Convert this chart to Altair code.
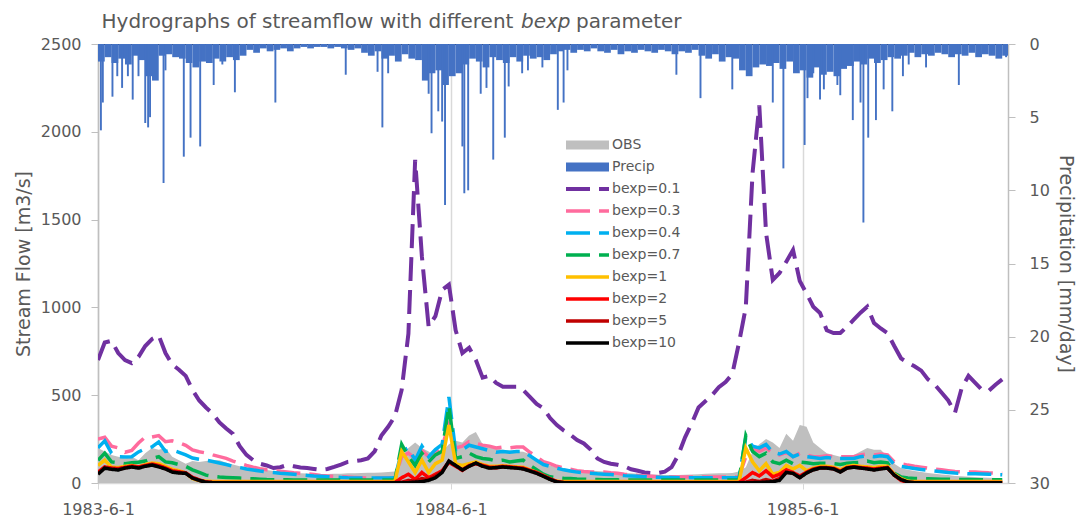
import altair as alt
import pandas as pd

FONT = "DejaVu Sans"
TEXT = "#595959"

START = "1983-06-01"
N = 135  # weekly samples

SERIES = ["OBS", "Precip", "bexp=0.1", "bexp=0.3", "bexp=0.4", "bexp=0.7",
          "bexp=1", "bexp=2", "bexp=5", "bexp=10"]
COLORS = ["#bfbfbf", "#4472c4", "#7030a0", "#ff6b9d", "#00b0f0", "#00b050",
          "#ffc000", "#ff0000", "#c00000", "#000000"]
DASHES = [[1, 0], [1, 0], [24, 9], [24, 9], [24, 9], [24, 9],
          [1, 0], [1, 0], [1, 0], [1, 0]]
WIDTHS = [9, 9, 4, 3.5, 3.5, 3.5, 3.5, 3.5, 3.5, 3.5]

obs = [200, 180, 160, 150, 140, 150, 130, 170, 200, 190,
       200, 150, 130, 110, 125, 120, 125, 130, 130, 115,
       105, 95, 90, 82, 78, 74, 68, 63, 58, 57,
       55, 54, 52, 51, 51, 52, 53, 55, 56, 57,
       58, 58, 60, 62, 65, 150, 200, 230, 200, 180,
       150, 180, 220, 240, 230, 270, 290, 220, 210, 200,
       190, 185, 180, 178, 165, 135, 110, 100, 90, 82,
       78, 74, 72, 70, 68, 66, 64, 60, 57, 55,
       52, 50, 48, 47, 46, 46, 46, 47, 48, 50,
       52, 54, 55, 56, 57, 65, 90, 180, 220, 250,
       230, 200, 280, 240, 330, 320, 230, 200, 170, 160,
       150, 150, 160, 180, 200, 190, 190, 150, 110, 85,
       75, 68, 62, 57, 52, 48, 45, 40, 38, 36,
       34, 32, 30, 29, 28]

b01 = [700, 800, 810, 740, 700, 683, 718, 780, 820, 840,
       740, 675, 645, 610, 530, 470, 430, 395, 345, 310,
       280, 210, 160, 130, 110, 100, 85, 90, 102, 95,
       88, 85, 80, 75, 80, 92, 105, 120, 125, 130,
       140, 180, 270, 320, 380, 530, 850, 1840, 1290, 890,
       950, 1100, 1130, 870, 740, 770, 700, 600, 610, 570,
       548, 548, 548, 530, 490, 450, 425, 370, 330, 300,
       275, 245, 225, 190, 140, 120, 110, 104, 95, 78,
       70, 60, 57, 57, 65, 90, 160, 260, 340, 430,
       465, 500, 545, 575, 620, 800, 1000, 1765, 2150, 1424,
       1156, 1196, 1260, 1327, 1150, 1080, 1004, 968, 870, 854,
       854, 890, 930, 970, 1004, 911, 880, 854, 780, 710,
       685, 665, 640, 590, 560, 515, 470, 400, 541, 610,
       570, 530, 525, 560, 590]

b03 = [250, 260, 210, 200, 175, 185, 228, 262, 262, 270,
       235, 240, 230, 215, 188, 178, 171, 160, 150, 140,
       125, 112, 100, 90, 82, 75, 70, 67, 63, 58,
       55, 52, 48, 43, 40, 38, 36, 34, 32, 30,
       28, 28, 28, 28, 30, 150, 170, 140, 185, 150,
       170, 210, 330, 200, 210, 235, 225, 215, 210, 200,
       205, 200, 205, 205, 175, 150, 121, 110, 95, 85,
       78, 70, 65, 63, 63, 62, 58, 55, 50, 46,
       43, 40, 38, 36, 35, 34, 34, 34, 34, 34,
       34, 34, 34, 34, 34, 35, 150, 200, 180, 200,
       170, 160, 175, 150, 170, 160, 150, 150, 155, 150,
       150, 150, 150, 160, 165, 160, 165, 160, 120, 110,
       102, 95, 90, 85, 80, 75, 70, 65, 63, 63,
       62, 60, 58, 57, 56]

b04 = [200, 240, 170, 150, 148, 150, 177, 195, 205, 234,
       180, 188, 175, 160, 142, 135, 130, 122, 114, 105,
       95, 88, 80, 74, 68, 63, 60, 56, 53, 50,
       46, 43, 40, 38, 36, 34, 32, 30, 29, 28,
       28, 28, 28, 28, 30, 180, 200, 130, 210, 150,
       190, 220, 490, 180, 190, 215, 205, 195, 185, 175,
       180, 175, 180, 180, 155, 130, 105, 95, 85, 75,
       68, 62, 58, 55, 52, 50, 48, 45, 42, 40,
       38, 36, 34, 33, 32, 31, 30, 30, 30, 30,
       30, 30, 30, 30, 30, 32, 260, 210, 200, 220,
       175, 165, 180, 150, 165, 150, 145, 140, 145, 140,
       140, 140, 140, 150, 155, 150, 155, 150, 105, 95,
       88, 82, 77, 72, 68, 64, 60, 57, 55, 53,
       52, 51, 50, 48, 47]

b07 = [130, 170, 120, 115, 110, 115, 118, 125, 140, 150,
       120, 115, 105, 95, 75, 60, 45, 38, 34, 32,
       30, 28, 26, 24, 22, 20, 19, 18, 18, 17,
       17, 17, 17, 17, 17, 17, 17, 17, 17, 17,
       17, 17, 17, 17, 18, 220, 150, 100, 170, 120,
       160, 180, 440, 140, 150, 170, 150, 140, 135, 125,
       130, 120, 125, 130, 100, 75, 50, 35, 30, 27,
       25, 23, 22, 21, 20, 19, 18, 18, 17, 17,
       17, 17, 17, 17, 17, 17, 17, 17, 17, 17,
       17, 17, 17, 17, 17, 18, 270, 180, 150, 170,
       120, 110, 130, 110, 120, 115, 110, 112, 112, 110,
       105, 112, 115, 118, 125, 115, 120, 115, 55, 35,
       28, 26, 25, 24, 23, 22, 21, 20, 20, 20,
       19, 19, 18, 18, 18]

b1 = [100, 130, 90, 88, 95, 100, 92, 105, 114, 110,
      95, 78, 70, 57, 25, 14, 10, 9, 8, 8,
      8, 8, 8, 8, 8, 8, 8, 8, 8, 8,
      8, 8, 8, 8, 8, 8, 8, 8, 8, 8,
      8, 8, 8, 8, 8, 180, 120, 60, 130, 60,
      110, 130, 330, 110, 100, 110, 120, 105, 95, 95,
      98, 95, 92, 90, 75, 60, 42, 22, 10, 8,
      8, 8, 8, 8, 8, 8, 8, 8, 8, 8,
      8, 8, 8, 8, 8, 8, 8, 8, 8, 8,
      8, 8, 8, 8, 8, 8, 200, 120, 70, 110,
      50, 60, 100, 80, 100, 70, 85, 95, 95, 90,
      75, 95, 100, 95, 92, 88, 95, 95, 50, 25,
      10, 8, 8, 8, 8, 8, 8, 8, 8, 8,
      8, 8, 8, 8, 8]

b2 = [62, 92, 85, 82, 90, 97, 92, 100, 108, 100,
      86, 70, 64, 58, 32, 18, 6, 3, 3, 3,
      3, 3, 3, 3, 3, 3, 3, 3, 3, 3,
      3, 3, 3, 3, 3, 3, 3, 3, 3, 3,
      3, 3, 3, 3, 3, 30, 50, 20, 60, 30,
      50, 70, 118, 95, 72, 100, 110, 100, 90, 90,
      95, 92, 88, 85, 72, 60, 42, 24, 8, 3,
      3, 3, 3, 3, 3, 3, 3, 3, 3, 3,
      3, 3, 3, 3, 3, 3, 3, 3, 3, 3,
      3, 3, 3, 3, 3, 3, 30, 60, 40, 70,
      35, 50, 75, 60, 40, 62, 80, 88, 88, 84,
      68, 88, 93, 88, 85, 80, 85, 88, 45, 15,
      3, 3, 3, 3, 3, 3, 3, 3, 3, 3,
      3, 3, 3, 3, 3]

b5 = [55, 88, 80, 78, 86, 93, 88, 97, 104, 95,
      82, 65, 60, 56, 30, 16, 5, 2, 2, 2,
      2, 2, 2, 2, 2, 2, 2, 2, 2, 2,
      2, 2, 2, 2, 2, 2, 2, 2, 2, 2,
      2, 2, 2, 2, 2, 5, 15, 10, 25, 20,
      40, 65, 122, 98, 76, 97, 112, 97, 87, 86,
      92, 89, 86, 82, 70, 57, 40, 22, 7, 2,
      2, 2, 2, 2, 2, 2, 2, 2, 2, 2,
      2, 2, 2, 2, 2, 2, 2, 2, 2, 2,
      2, 2, 2, 2, 2, 2, 5, 15, 8, 20,
      10, 25, 62, 55, 32, 58, 76, 86, 86, 81,
      64, 86, 91, 86, 82, 76, 82, 87, 44, 18,
      4, 2, 2, 2, 2, 2, 2, 2, 2, 2,
      2, 2, 2, 2, 2]

b10 = [50, 85, 78, 74, 85, 91, 85, 95, 102, 92,
       80, 62, 57, 55, 28, 15, 4, 2, 1, 1,
       1, 1, 1, 1, 1, 1, 1, 1, 1, 1,
       1, 1, 1, 1, 1, 1, 1, 1, 1, 1,
       1, 1, 1, 1, 1, 1, 2, 5, 8, 15,
       30, 60, 125, 100, 74, 95, 114, 95, 85, 88,
       91, 88, 85, 80, 68, 55, 38, 20, 6, 2,
       1, 1, 1, 1, 1, 1, 1, 1, 1, 1,
       1, 1, 1, 1, 1, 1, 1, 1, 1, 1,
       1, 1, 1, 1, 1, 1, 1, 2, 3, 5,
       8, 15, 60, 55, 30, 57, 75, 85, 85, 80,
       63, 85, 90, 85, 80, 74, 80, 85, 45, 20,
       6, 1, 1, 1, 1, 1, 1, 1, 1, 1,
       1, 1, 1, 1, 1]

# weekly background of the daily precipitation (mm/day)
precip_weekly = [1.2, 0.9, 1.3, 1.0, 1.4, 0.8, 1.1, 2.2, 2.5, 0.8,
                 0.7, 0.9, 1.0, 1.3, 1.6, 1.2, 1.3, 1.0, 1.2, 0.9,
                 1.1, 0.8, 0.4, 0.6, 0.3, 0.5, 0.4, 0.3, 0.5, 0.3,
                 0.2, 0.3, 0.2, 0.2, 0.3, 0.2, 0.3, 0.4, 0.3, 0.6,
                 0.8, 0.5, 1.0, 0.8, 1.2, 0.7, 1.0, 1.1, 2.5, 2.0,
                 1.8, 2.8, 2.2, 2.0, 1.4, 1.0, 1.2, 1.6, 0.9, 1.1,
                 1.3, 0.9, 1.2, 0.8, 1.0, 0.9, 1.1, 0.7, 0.5, 0.4,
                 0.6, 0.4, 0.5, 0.3, 0.5, 0.6, 0.4, 0.7, 0.5, 0.6,
                 0.4, 0.5, 0.6, 0.4, 0.5, 0.7, 0.5, 0.6, 0.4, 0.8,
                 1.0, 0.7, 1.2, 0.9, 1.0, 1.8, 2.2, 1.6, 1.4, 1.5,
                 1.3, 1.7, 1.2, 2.0, 1.8, 2.3, 1.6, 2.1, 1.9, 2.2,
                 1.7, 1.5, 1.2, 1.4, 1.0, 1.3, 1.1, 0.9, 1.0, 0.8,
                 0.6, 0.9, 0.7, 0.8, 0.6, 0.7, 0.9, 0.7, 0.8, 0.6,
                 0.9, 0.7, 0.8, 1.0, 0.8]

# individual rain days that stand out
spike_dates = ["1983-06-03", "1983-06-05", "1983-06-15", "1983-06-20", "1983-06-25",
               "1983-07-01", "1983-07-06", "1983-07-12", "1983-07-19", "1983-07-22",
               "1983-07-24", "1983-08-07", "1983-08-09", "1983-08-28", "1983-09-04",
               "1983-09-14", "1983-09-28", "1983-10-07", "1983-10-20", "1983-12-01",
               "1984-02-12", "1984-03-16", "1984-03-21", "1984-03-27", "1984-05-08",
               "1984-05-11", "1984-05-18", "1984-05-22", "1984-05-25", "1984-06-12",
               "1984-06-14", "1984-06-18", "1984-07-01", "1984-07-07", "1984-07-14",
               "1984-07-26", "1984-07-30", "1984-08-13", "1984-08-19", "1984-09-03",
               "1984-09-19", "1984-09-25", "1984-09-29", "1985-01-20", "1985-02-14",
               "1985-03-19", "1985-04-04", "1985-04-30", "1985-05-11", "1985-06-02",
               "1985-06-05", "1985-06-11", "1985-06-18", "1985-06-22", "1985-07-06",
               "1985-07-09", "1985-07-22", "1985-07-30", "1985-08-02", "1985-08-07",
               "1985-08-15", "1985-08-23", "1985-09-01", "1985-09-12", "1985-09-18",
               "1985-10-06", "1985-11-09", "1985-12-28"]
spike_mm = [5.9, 4.0, 3.6, 2.2, 3.0,
            2.2, 3.8, 2.2, 5.4, 5.7,
            5.0, 9.5, 1.8, 7.7, 6.4,
            7.0, 2.8, 1.4, 3.3, 4.0,
            2.1, 1.9, 5.7, 2.0, 3.4,
            6.1, 4.6, 5.3, 11.0, 7.0,
            10.2, 10.0, 3.4, 3.0, 7.9,
            6.4, 2.9, 2.0, 1.8, 1.6,
            4.5, 4.0, 1.8, 2.1, 3.7,
            3.1, 1.1, 4.0, 8.5, 6.9,
            3.7, 2.0, 3.8, 3.1, 2.8,
            3.5, 5.2, 4.0, 12.2, 6.4,
            5.2, 3.1, 4.6, 2.2, 1.4,
            1.6, 2.8, 0.9]

flow_ticks = [0, 500, 1000, 1500, 2000, 2500]
precip_ticks = [0, 5, 10, 15, 20, 25, 30]

# ---------------------------------------------------------------- tables
week_dates = pd.date_range(START, periods=N, freq="7D")
line_names = SERIES[2:]
line_values = [b01, b03, b04, b07, b1, b2, b5, b10]
rows = []
for name, vals in zip(line_names, line_values):
    assert len(vals) == N, name
    for d, v in zip(week_dates, vals):
        rows.append({"date": d, "series": name, "value": v})
flow_df = pd.DataFrame(rows)
assert len(obs) == N and len(precip_weekly) == N
obs_df = pd.DataFrame({"date": week_dates, "value": obs})
bg_df = pd.DataFrame({"date": week_dates,
                      "date_end": week_dates + pd.Timedelta(days=7),
                      "p": precip_weekly})
sp = pd.to_datetime(spike_dates)
sp_df = pd.DataFrame({"date": sp, "date_end": sp + pd.Timedelta(days=2), "p": spike_mm})

# ---------------------------------------------------------------- encodings
x_scale = alt.Scale(domain=[alt.DateTime(year=1983, month=6, date=1),
                            alt.DateTime(year=1985, month=12, date=31)])
x_axis = alt.Axis(values=[alt.DateTime(year=y, month=6, date=1) for y in (1983, 1984, 1985)],
                  format="%Y-%-m-%-d", grid=True, gridColor="#d9d9d9", gridWidth=1.5,
                  domainColor="#d9d9d9", domainWidth=1.5, tickColor="#d9d9d9",
                  tickSize=6, labelPadding=12, labelFlush=False, labelOverlap=False)
x_enc = alt.X("date:T", scale=x_scale, axis=x_axis, title=None)

y_flow = alt.Y("value:Q", scale=alt.Scale(domain=[0, 2500], nice=False),
               axis=alt.Axis(values=flow_ticks, format="d", grid=False, tickSize=7,
                             labelPadding=10, titlePadding=7, domainColor="#bfbfbf",
                             tickColor="#bfbfbf", domainWidth=1.5),
               title="Stream Flow [m3/s]")
y_precip = alt.Y("p:Q", scale=alt.Scale(domain=[0, 30], reverse=True, nice=False),
                 axis=alt.Axis(orient="right", values=precip_ticks, format="d", grid=False,
                               tickSize=7, labelPadding=14, titlePadding=6,
                               domainColor="#bfbfbf", tickColor="#bfbfbf", domainWidth=1.5),
                 title="Precipitation [mm/day]")

leg = alt.Legend(orient="none", legendX=461, legendY=94, title=None,
                 symbolType="M0,0H21.5", symbolSize=16, clipHeight=14,
                 labelFont=FONT, labelFontSize=14, labelColor=TEXT,
                 labelOffset=39, rowPadding=8, padding=0, labelLimit=0)

obs_area = alt.Chart(obs_df).mark_area(color="#bfbfbf", clip=True).encode(
    x=x_enc, y=y_flow)

lines = alt.Chart(flow_df).mark_line(clip=True, strokeCap="butt").encode(
    x=x_enc, y=y_flow,
    color=alt.Color("series:N", scale=alt.Scale(domain=SERIES, range=COLORS), legend=leg),
    strokeDash=alt.StrokeDash("series:N", scale=alt.Scale(domain=SERIES, range=DASHES), legend=leg),
    strokeWidth=alt.StrokeWidth("series:N", scale=alt.Scale(type="ordinal", domain=SERIES, range=WIDTHS), legend=leg),
)

flow_group = alt.layer(obs_area, lines)

top_rule = alt.Chart(pd.DataFrame({"a": [0]})).mark_rule(color="#000000", strokeWidth=1).encode(
    y=alt.value(0.5))
bg_bars = alt.Chart(bg_df).mark_rect(color="#4472c4", clip=True).encode(
    x=x_enc, x2="date_end:T", y=y_precip, y2=alt.datum(0))
spike_bars = alt.Chart(sp_df).mark_rect(color="#4472c4", clip=True).encode(
    x=x_enc, x2="date_end:T", y=y_precip, y2=alt.datum(0))
precip_group = alt.layer(top_rule, bg_bars, spike_bars)


def title_part(txt, x, italic=False):
    return alt.Chart(pd.DataFrame({"t": [txt]})).mark_text(
        align="left", baseline="alphabetic", font=FONT, fontSize=20, color=TEXT,
        fontStyle="italic" if italic else "normal").encode(
        x=alt.value(x), y=alt.value(-16), text="t:N")


chart = alt.layer(
    flow_group, precip_group,
    title_part("Hydrographs of streamflow with different", 3.5),
    title_part("bexp", 423, italic=True),
    title_part("parameter", 478),
).resolve_scale(y="independent").properties(
    width=910, height=439,
    autosize=alt.AutoSizeParams(type="none"),
    padding={"left": 98, "top": 44, "right": 70, "bottom": 34},
).configure_axis(
    labelFont=FONT, labelFontSize=16, labelColor=TEXT,
    titleFont=FONT, titleFontSize=19, titleFontWeight="normal", titleColor=TEXT,
).configure_view(stroke=None)

chart.save("out.html", embed_options={"renderer": "svg", "actions": False})
